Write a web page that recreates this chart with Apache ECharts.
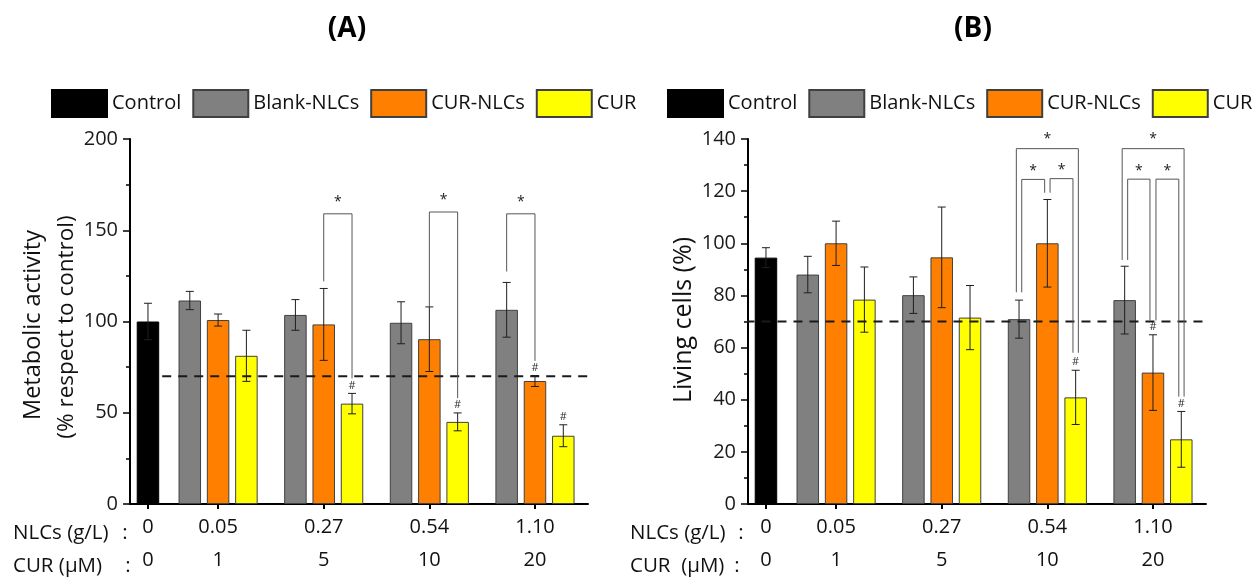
<!DOCTYPE html>
<html><head><meta charset="utf-8">
<script src="https://cdn.jsdelivr.net/npm/echarts@6/dist/echarts.min.js"></script>
<style>html,body{margin:0;padding:0;background:#fff}#c{width:1254px;height:577px}</style>
</head><body><div id="c"></div>
<script>
// ---------- data ----------
const seriesNames = ['Control', 'Blank-NLCs', 'CUR-NLCs', 'CUR'];
const nlcLabels = ['0', '0.05', '0.27', '0.54', '1.10'];
const curLabels = ['0', '1', '5', '10', '20'];
const threshold = 70;

// Panel A: metabolic activity
const controlA = 100, controlErrA = 10;
const blankA = [111.5, 103.6, 99.3, 106.4];
const blankErrA = [5, 8.4, 11.5, 15];
const curNlcA = [100.8, 98.4, 90.3, 67.4];
const curNlcErrA = [3.3, 19.7, 17.7, 3];
const curA = [81.2, 55, 45, 37.4];
const curErrA = [14, 5.6, 4.9, 6];
// [group, bar] with "#"
const hashA = [[2, 2], [3, 2], [4, 1], [4, 2]];
// [group, leftBar, rightBar, topValue, leftFoot, rightFoot]
const bracketsA = [[2, 1, 2, 159, 122, 68.8], [3, 1, 2, 160, 108, 58], [4, 0, 1, 159, 127.4, 78.4]];

// Panel B: living cells
const controlB = 94.5, controlErrB = 3.8;
const blankB = [88, 80.1, 70.9, 78.2];
const blankErrB = [7, 7, 7.3, 13];
const curNlcB = [100, 94.6, 100, 50.4];
const curNlcErrB = [8.5, 19.3, 16.8, 14.5];
const curB = [78.4, 71.5, 40.9, 24.8];
const curErrB = [12.5, 12.3, 10.4, 10.7];
const hashB = [[3, 2], [4, 1], [4, 2]];
const bracketsB = [
  [3, 0, 2, 136.3, 81.2, 58], [3, 0, 1, 124.5, 81.2, 119.4], [3, 1, 2, 124.8, 119.4, 58],
  [4, 0, 2, 136.3, 93.6, 41.2], [4, 0, 1, 124.6, 93.6, 70.4], [4, 1, 2, 124.6, 70.4, 41.2]
];

// ---------- layout helpers (positions, not data) ----------
const FONT = 'Open Sans';
const CTRL_X = 0.336, OFF = 0.268;
const X_MIN = 0.166, X_MAX = 4.502;
const xOf = (g, b) => g + (b - 1) * OFF;
const tickVals = [CTRL_X, 1, 2, 3, 4];
const legNudgeA = [[0, 0], [0, 0], [0, 0]];
const legNudgeB = [[-2.7, 2.7], [2.7, -2.7], [2.7, -2.7], [-2.5, 2.8], [3, -3], [3, -2.5]];
const colors = ['#000000', '#808080', '#ff8000', '#ffff00'];
const borders = ['#000000', '#404040', '#404040', '#404040'];

function barSeries(gi, ctrl, blank, curNlc, cur) {
  const vals = [[[CTRL_X, ctrl]],
    blank.map((v, i) => [xOf(i + 1, 0), v]),
    curNlc.map((v, i) => [xOf(i + 1, 1), v]),
    cur.map((v, i) => [xOf(i + 1, 2), v])];
  return vals.map((d, k) => ({
    type: 'bar', name: seriesNames[k], xAxisIndex: gi, yAxisIndex: gi,
    data: d, barWidth: 22.5, barGap: '-100%', z: 2,
    itemStyle: { color: colors[k], borderColor: borders[k], borderWidth: 1 },
    emphasis: { disabled: true }
  }));
}

function errSeries(gi, ctrl, ctrlErr, arrs, errs) {
  const data = [[CTRL_X, ctrl, ctrlErr]];
  arrs.forEach((a, b) => a.forEach((v, i) => data.push([xOf(i + 1, b), v, errs[b][i]])));
  return {
    type: 'custom', xAxisIndex: gi, yAxisIndex: gi, z: 5, data: data,
    encode: { x: 0, y: 1 }, silent: true,
    renderItem: function (params, api) {
      const x = api.value(0), y = api.value(1), e = api.value(2);
      const t = api.coord([x, y + e]), bt = api.coord([x, y - e]);
      const hw = 4, st = { stroke: '#1e1e1e', lineWidth: 1 };
      return { type: 'group', children: [
        { type: 'line', shape: { x1: t[0], y1: t[1], x2: bt[0], y2: bt[1] }, style: st },
        { type: 'line', shape: { x1: t[0] - hw, y1: t[1], x2: t[0] + hw, y2: t[1] }, style: st },
        { type: 'line', shape: { x1: bt[0] - hw, y1: bt[1], x2: bt[0] + hw, y2: bt[1] }, style: st }
      ] };
    }
  };
}

function hashSeries(gi, marks, arrs, errs) {
  return {
    type: 'custom', xAxisIndex: gi, yAxisIndex: gi, z: 6, silent: true,
    data: marks.map(m => [xOf(m[0], m[1]), arrs[m[1]][m[0] - 1] + errs[m[1]][m[0] - 1]]),
    encode: { x: 0, y: 1 },
    renderItem: function (params, api) {
      const p = api.coord([api.value(0), api.value(1)]);
      return { type: 'text', x: p[0], y: p[1] - 8,
        style: { text: '#', fill: '#333', font: '11px "' + FONT + '"', textAlign: 'center', textVerticalAlign: 'middle' } };
    }
  };
}

function bracketSeries(gi, brs, nudges, starOffOuter, starOffInner) {
  return {
    type: 'custom', xAxisIndex: gi, yAxisIndex: gi, z: 6, silent: true,
    data: brs.map(b => [xOf(b[0], b[1]), b[3]]),
    encode: { x: 0, y: 1 },
    renderItem: function (params, api) {
      const b = brs[params.dataIndex], n = nudges[params.dataIndex];
      const xl = xOf(b[0], b[1]), xr = xOf(b[0], b[2]);
      const tl = api.coord([xl, b[3]]), tr = api.coord([xr, b[3]]);
      const fl = api.coord([xl, b[4]]), fr = api.coord([xr, b[5]]);
      const x1 = tl[0] + n[0], x2 = tr[0] + n[1];
      const st = { stroke: '#555', lineWidth: 1, fill: null };
      const outer = (b[2] - b[1]) === 2 || starOffInner == null;
      return { type: 'group', children: [
        { type: 'polyline', shape: { points: [[x1, fl[1]], [x1, tl[1]], [x2, tr[1]], [x2, fr[1]]] }, style: st },
        { type: 'text', x: (x1 + x2) / 2, y: tl[1] - (outer ? starOffOuter : starOffInner),
          style: { text: '*', fill: '#222', font: '14px "' + FONT + '"', textAlign: 'center', textVerticalAlign: 'middle' } }
      ] };
    }
  };
}

function thresholdSeries(gi, x0, x1) {
  return {
    type: 'line', xAxisIndex: gi, yAxisIndex: gi, z: 4, clip: false, silent: true,
    symbol: 'none', data: [[x0, threshold], [x1, threshold]],
    lineStyle: { color: '#1a1a1a', width: 2, type: [9, 7] }
  };
}

function xAxis(gi) {
  return {
    type: 'value', gridIndex: gi, min: X_MIN, max: X_MAX,
    splitLine: { show: false },
    axisLine: { show: true, onZero: false, lineStyle: { color: '#000', width: 2 } },
    axisTick: { show: true, customValues: tickVals, length: 5, lineStyle: { color: '#000', width: 2 } },
    axisLabel: {
      customValues: tickVals, margin: 7, fontSize: 20, lineHeight: 33, color: '#111', fontFamily: FONT,
      formatter: function (v) {
        let idx = 0, best = 1e9;
        tickVals.forEach((t, i) => { const d = Math.abs(t - v); if (d < best) { best = d; idx = i; } });
        return nlcLabels[idx] + '\n' + curLabels[idx];
      }
    }
  };
}

function yAxis(gi, max, interval, minorSplit) {
  return {
    type: 'value', gridIndex: gi, min: 0, max: max, interval: interval,
    splitLine: { show: false },
    axisLine: { show: true, lineStyle: { color: '#000', width: 2 } },
    axisTick: { show: true, length: 7, lineStyle: { color: '#000', width: 1.5 } },
    minorTick: { show: true, splitNumber: minorSplit, length: 4, lineStyle: { color: '#000', width: 1.5 } },
    axisLabel: { margin: 12, fontSize: 20, color: '#1a1a1a', fontFamily: FONT }
  };
}

const legendBase = {
  data: seriesNames, icon: 'rect', itemWidth: 55, itemHeight: 27, itemGap: 11, top: 89,
  padding: 0, width: 620, orient: 'horizontal',
  selectedMode: false, textStyle: { fontSize: 20, color: '#111', fontFamily: FONT }
};

function txt(x, y, text, opts) {
  return Object.assign({ type: 'text', x: x, y: y, silent: true,
    style: Object.assign({ text: text, fill: '#111', font: '20.5px "' + FONT + '"', textVerticalAlign: 'middle' }, opts || {}) });
}

const option = {
  backgroundColor: '#fff',
  animation: false,
  textStyle: { fontFamily: FONT },
  grid: [
    { left: 130, top: 139, width: 458, height: 370 },
    { left: 748, top: 139, width: 458, height: 370 }
  ],
  legend: [Object.assign({ left: 51 }, legendBase), Object.assign({ left: 667 }, legendBase)],
  xAxis: [xAxis(0), xAxis(1)],
  yAxis: [yAxis(0, 200, 50, 2), yAxis(1, 140, 20, 2)],
  series: [].concat(
    barSeries(0, controlA, blankA, curNlcA, curA),
    [errSeries(0, controlA, controlErrA, [blankA, curNlcA, curA], [blankErrA, curNlcErrA, curErrA]),
     thresholdSeries(0, 0.471, 4.568),
     hashSeries(0, hashA, [blankA, curNlcA, curA], [blankErrA, curNlcErrA, curErrA]),
     bracketSeries(0, bracketsA, legNudgeA, 12, null)],
    barSeries(1, controlB, blankB, curNlcB, curB),
    [errSeries(1, controlB, controlErrB, [blankB, curNlcB, curB], [blankErrB, curNlcErrB, curErrB]),
     thresholdSeries(1, 0.142, 4.559),
     hashSeries(1, hashB, [blankB, curNlcB, curB], [blankErrB, curNlcErrB, curErrB]),
     bracketSeries(1, bracketsB, legNudgeB, 10, 8.5)]
  ),
  graphic: [
    txt(347, 29, '(A)', { font: 'bold 28px "' + FONT + '"', textAlign: 'center', fill: '#000' }),
    txt(973, 29, '(B)', { font: 'bold 28px "' + FONT + '"', textAlign: 'center', fill: '#000' }),
    Object.assign(txt(33, 325, 'Metabolic activity', { font: '23.5px "' + FONT + '"', textAlign: 'center' }), { rotation: Math.PI / 2 }),
    Object.assign(txt(67, 327, '(% respect to control)', { font: '22.5px "' + FONT + '"', textAlign: 'center' }), { rotation: Math.PI / 2 }),
    Object.assign(txt(684, 320, 'Living cells (%)', { font: '25px "' + FONT + '"', textAlign: 'center' }), { rotation: Math.PI / 2 }),
    txt(13, 533, 'NLCs (g/L)'), txt(125, 533, ':', { textAlign: 'center' }),
    txt(13, 566, 'CUR (μM)'), txt(128, 566, ':', { textAlign: 'center' }),
    txt(630, 533, 'NLCs (g/L)'), txt(741, 533, ':', { textAlign: 'center' }),
    txt(630, 566, 'CUR  (μM)'), txt(737, 566, ':', { textAlign: 'center' })
  ]
};

const chart = echarts.init(document.getElementById('c'), null, { renderer: 'canvas' });
chart.setOption(option);
</script>
</body></html>
